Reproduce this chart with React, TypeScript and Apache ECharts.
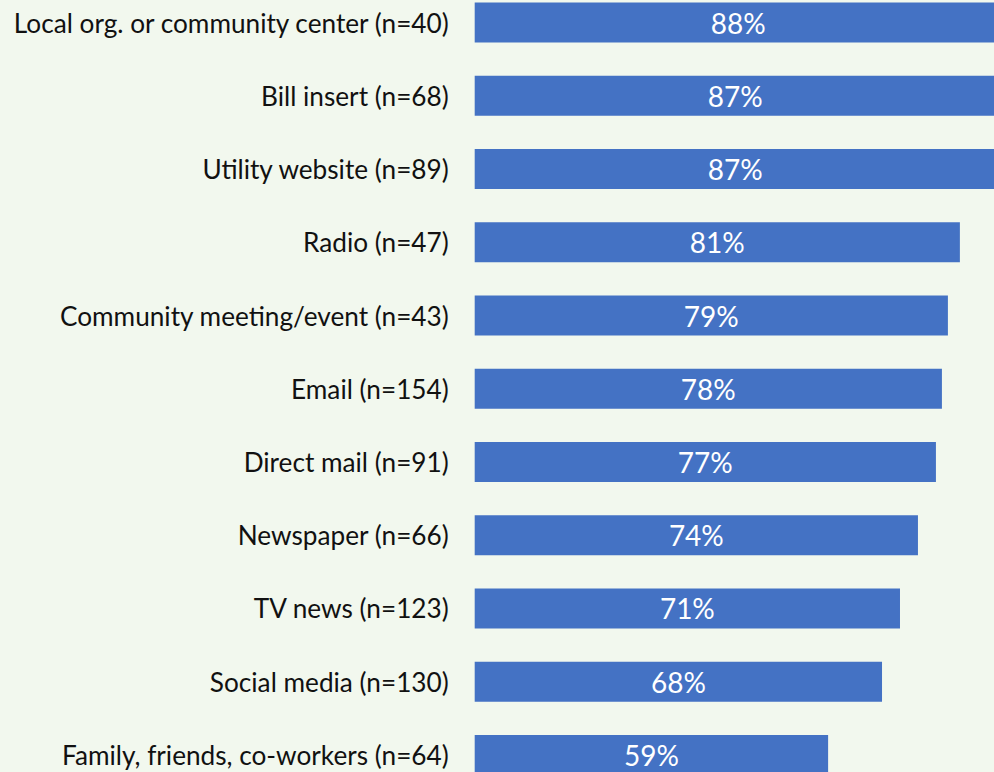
import React, { useEffect, useRef } from "react";
import * as echarts from "echarts";

const categories = [
  "Local org. or community center (n=40)",
  "Bill insert (n=68)",
  "Utility website (n=89)",
  "Radio (n=47)",
  "Community meeting/event (n=43)",
  "Email (n=154)",
  "Direct mail (n=91)",
  "Newspaper (n=66)",
  "TV news (n=123)",
  "Social media (n=130)",
  "Family, friends, co-workers (n=64)",
];

const values = [88, 87, 87, 81, 79, 78, 77, 74, 71, 68, 59];

export default function App() {
  const ref = useRef<HTMLDivElement>(null);
  useEffect(() => {
    if (!ref.current) return;
    const chart = echarts.init(ref.current, null, { renderer: "svg" });
    chart.setOption({
      animation: false,
      backgroundColor: "#F2F8EE",
      grid: {
        left: 474.7,
        right: -79.7,
        top: -14.1,
        bottom: -19.6,
        containLabel: false,
        outerBoundsMode: "none",
      },
      xAxis: {
        type: "value",
        min: 0,
        max: 100,
        show: false,
      },
      yAxis: {
        type: "category",
        data: categories,
        inverse: true,
        axisLine: { show: false },
        axisTick: { show: false },
        axisLabel: {
          margin: 26,
          color: "#111111",
          fontFamily: "Lato",
          fontSize: 26.2,
        },
      },
      series: [
        {
          type: "bar",
          data: values,
          barWidth: 40,
          clip: true,
          itemStyle: { color: "#4472C4" },
          label: {
            show: true,
            position: "inside",
            formatter: "{c}%",
            color: "#FFFFFF",
            fontFamily: "Lato",
            fontSize: 28,
          },
        },
      ],
    });
    return () => chart.dispose();
  }, []);
  return (
    <div
      ref={ref}
      style={{ position: "fixed", left: 0, top: 0, width: 994, height: 772 }}
    />
  );
}
